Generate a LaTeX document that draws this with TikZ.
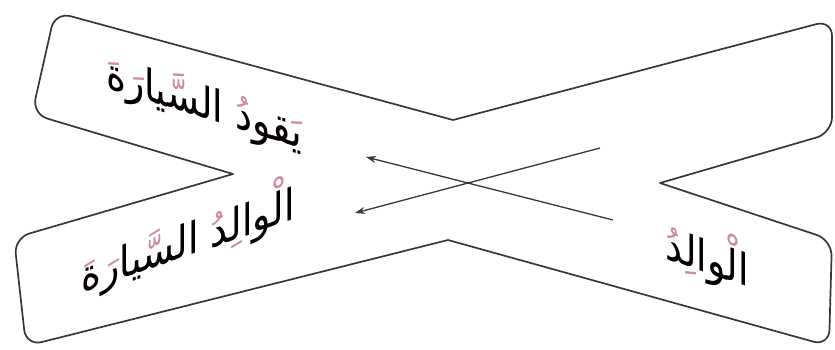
\documentclass[tikz,border=0pt]{standalone}
\usepackage{fontspec}
\newfontfamily\arabicfont[Script=Arabic]{DejaVu Sans}
\TeXXeTstate=1
\usetikzlibrary{arrows.meta}
\definecolor{inkgray}{RGB}{55,55,55}
\definecolor{markpink}{RGB}{205,140,158}
\tikzset{
  band/.style={draw=inkgray, line width=1.7pt, line join=round},
  link/.style={draw=inkgray, line width=1.3pt, -{Stealth[length=10pt,width=7pt]}},
  phrase/.style={font=\arabicfont\fontsize{38}{44}\selectfont, inner sep=0pt, anchor=base, yscale=1.15},
}
\begin{document}
\begin{tikzpicture}[x=1pt,y=1pt]
  \useasboundingbox (0,0) rectangle (835,-349);
  % the two crossing bands, drawn as one outline
  \draw[band] (453,-120)
    [rounded corners=16pt] -- (832,-20) -- (832,-133)
    [sharp corners] -- (660,-183)
    [rounded corners=16pt] -- (832,-240) -- (829,-346)
    [sharp corners] -- (448,-240)
    [rounded corners=16pt] -- (26,-346) -- (14,-238)
    [sharp corners] -- (233,-174)
    [rounded corners=16pt] -- (32,-114) -- (55,-12)
    [sharp corners] -- cycle;
  % texts: pink harakat under the black letters
  \node[phrase, yslant=-0.27] (drive) at (204,-118)
    {\rlap{\color{markpink}\beginR يَقودُ السَّيارَةَ\endR}\beginR يقود السيارة\endR};
  \node[phrase, yslant=0.3] (object) at (188,-256)
    {\rlap{\color{markpink}\beginR الْوالِدُ السَّيارَةَ\endR}\beginR الوالد السيارة\endR};
  \node[phrase, yslant=-0.3] (father) at (707,-273)
    {\rlap{\color{markpink}\beginR الْوالِدُ\endR}\beginR الوالد\endR};
  % arrows
  \coordinate (from1) at (613,-220);
  \coordinate (to1) at (366,-157);
  \coordinate (from2) at (600,-148);
  \coordinate (to2) at (355,-213);
  \draw[link] (from1) -- (to1);
  \draw[link] (from2) -- (to2);
\end{tikzpicture}
\end{document}
